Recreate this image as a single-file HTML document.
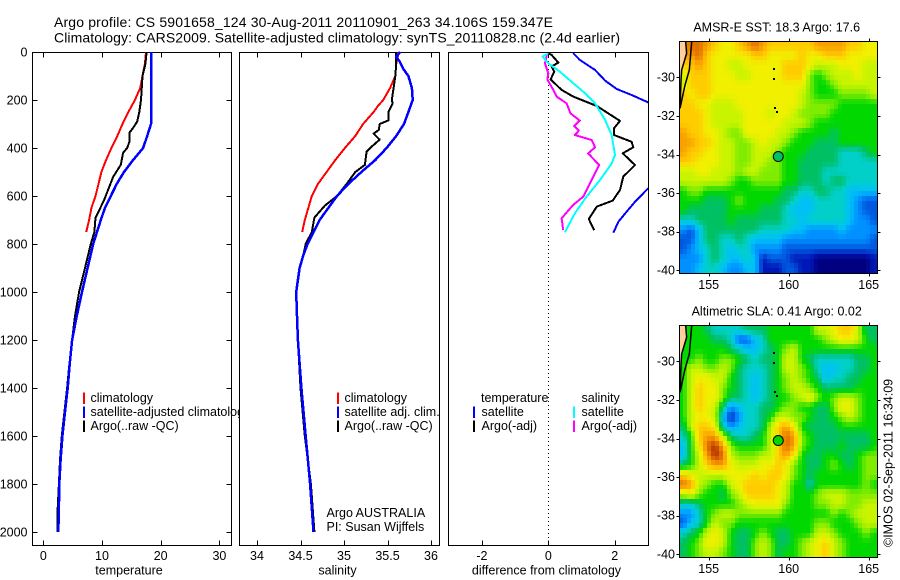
<!DOCTYPE html>
<html>
<head>
<meta charset="utf-8">
<title>Argo profile</title>
<style>
html,body{margin:0;padding:0;background:#fff;width:900px;height:580px;overflow:hidden}
svg{display:block}
text{font-family:"Liberation Sans",sans-serif;font-size:12.5px;fill:#000}
text.main-title{font-size:14px}
</style>
</head>
<body>
<svg id="chart" xmlns="http://www.w3.org/2000/svg" width="900" height="580" viewBox="0 0 900 580">
<rect x="0" y="0" width="900" height="580" fill="#fff"/>
<text class="main-title" x="54" y="27" textLength="499" lengthAdjust="spacing">Argo profile: CS 5901658_124 30-Aug-2011 20110901_263 34.106S 159.347E</text>
<text class="main-title" x="54" y="42.5" textLength="566" lengthAdjust="spacing">Climatology: CARS2009. Satellite-adjusted climatology: synTS_20110828.nc (2.4d earlier)</text>
<g id="layer"></g>
</svg>
<script>
// ---- shared depth levels (m) ----
const yTickLabels = [0,200,400,600,800,1000,1200,1400,1600,1800,2000];
const tempTickLabels = [0,10,20,30];
const salTickLabels = [34,34.5,35,35.5,36];
const diffTickLabels = [-2,0,2];
const lonTickLabels = [155,160,165];
const latTickLabels = [-30,-32,-34,-36,-38,-40];

// ---- temperature panel ----
const tempClimDepth = [0,50,100,150,200,250,300,350,400,450,500,550,600,650,700,750];
const tempClim = [17.5,17.3,16.9,16.5,15.6,14.5,13.5,12.6,11.6,10.7,9.9,9.4,8.9,8.2,7.8,7.3];
const tempSatDepth = [0,300,350,400,450,500,550,600,650,700,800,900,1000,1100,1200,1300,1400,1500,1600,1700,1800,1900,2000];
const tempSat = [18.35,18.35,17.7,17,15.3,13.75,12.5,11.5,10.5,9.8,8.5,7.55,6.6,5.7,4.9,4.5,4.15,3.7,3.25,2.95,2.73,2.65,2.56];
const tempArgoDepth = [0,50,100,200,250,290,320,335,375,400,420,470,520,570,620,660,690,750,800,900,1000,1100,1200,1300,1400,1500,1600,1700,1800,1900,2000];
const tempArgo = [17.6,17.4,16.9,16.65,16.35,16,15.2,14.7,14.65,14.3,13.6,13.2,11.9,11.1,10.3,9.5,8.9,8.7,8.1,7.1,6.1,5.4,4.9,4.45,4.05,3.6,3.15,2.85,2.65,2.45,2.45];

// ---- salinity panel ----
const salClimDepth = [0,50,100,150,200,225,250,300,350,400,450,500,550,600,650,700,750];
const salClim = [35.63,35.6,35.59,35.53,35.45,35.39,35.34,35.22,35.13,35.01,34.9,34.8,34.7,34.63,34.59,34.55,34.52];
const salSatDepth = [0,20,40,70,100,150,200,250,300,350,400,450,500,550,600,650,700,750,800,850,900,1000,1100,1200,1400,1600,1800,2000];
const salSat = [35.645,35.6,35.64,35.68,35.74,35.78,35.79,35.74,35.69,35.6,35.49,35.36,35.2,35.05,34.92,34.82,34.72,34.65,34.58,34.53,34.49,34.45,34.46,34.47,34.51,34.56,34.61,34.65];
const salArgoDepth = [0,50,100,150,200,215,250,285,300,325,340,365,400,415,470,500,550,600,640,690,750,800,850,900,1000,1200,1400,1600,1800,2000];
const salArgo = [35.6,35.6,35.59,35.57,35.55,35.56,35.51,35.51,35.41,35.4,35.34,35.41,35.3,35.26,35.24,35.13,35.03,34.92,34.78,34.66,34.63,34.56,34.53,34.49,34.45,34.47,34.5,34.55,34.62,34.66];

// ---- difference panel ----
const diffTempSatDepth = [5,33,75,119,154,179,210,250,300,350,400,450,500,568,624,665,707,753];
const diffTempSat = [0.75,0.95,1.41,1.71,2.06,2.51,3.01,3.8,4.8,4.6,5.4,4.6,3.85,3.01,2.61,2.36,2.11,1.96];
const diffTempArgoDepth = [5,12,44,61,82,114,158,186,225,287,318,346,374,397,422,471,519,575,619,644,696,742];
const diffTempArgo = [0,0.1,0.3,0.1,0.18,0.07,0.4,0.75,1.46,2.16,1.98,1.98,2.51,2.56,2.24,2.61,2.26,2.16,1.94,1.46,1.22,1.38];
const diffSalSatDepth = [5,19,47,82,130,165,214,283,346,429,464,533,603,672,751];
const diffSalSat = [0,-0.17,0,0.35,0.75,1.05,1.41,1.71,1.91,2.01,1.91,1.56,1.15,0.8,0.5];
const diffSalArgoDepth = [5,47,89,114,158,186,214,256,286,308,328,346,367,397,422,471,547,603,637,693,742];
const diffSalArgo = [-0.03,-0.1,0,-0.03,0.15,0.25,0.55,0.67,0.95,0.78,0.92,0.8,1.31,1.41,1.2,1.53,1.26,1.05,0.75,0.4,0.45];

// ---- map colour levels (25 columns x 24 rows) ----
const sstLevels = [
[12,13,13,12,11,10,10,11,12,13,12,11,11,11,11,11,11,12,12,12,12,11,11,10,10],
[12,12,13,11,10,10,10,10,10,11,11,10,10,10,10,11,10,10,11,11,11,10,10,10,10],
[11,11,12,11,10,10,9,9,10,10,10,10,10,11,11,11,10,9,9,9,10,10,10,9,9],
[9,11,11,11,10,10,10,9,9,10,10,10,10,11,11,11,8,7,8,9,9,9,10,9,9],
[9,11,11,11,10,10,10,10,10,10,10,10,10,10,10,10,8,7,7,8,9,9,9,9,9],
[11,10,11,11,10,10,10,10,10,10,10,10,10,10,10,9,8,7,7,7,8,8,8,8,9],
[11,11,10,10,9,9,9,10,10,10,10,10,10,10,10,9,8,8,8,8,7,7,7,7,7],
[11,11,11,10,9,9,9,9,10,10,10,9,10,10,9,8,8,8,8,7,7,7,7,7,7],
[11,11,11,10,9,9,9,9,10,10,10,10,10,9,9,9,8,7,7,7,7,7,7,7,7],
[12,11,11,10,10,9,8,8,10,10,10,10,9,9,8,7,7,7,7,6,7,7,7,7,7],
[12,12,11,11,10,9,9,8,8,9,10,9,9,8,7,7,7,6,6,6,7,7,7,7,7],
[12,11,11,10,10,9,9,8,8,9,9,9,8,7,7,7,6,6,6,6,5,5,5,6,7],
[11,11,10,10,10,9,9,8,8,9,9,8,8,7,7,6,6,6,6,6,5,5,5,5,5],
[9,9,10,10,9,9,9,8,9,9,8,8,8,7,7,6,6,6,5,5,5,5,5,5,5],
[9,9,9,9,9,9,8,7,7,8,8,8,8,7,7,6,6,6,5,6,6,5,5,5,5],
[7,8,8,7,7,7,7,7,7,7,7,7,7,6,6,5,5,6,6,5,5,4,4,4,4],
[7,7,7,6,6,6,7,8,7,7,7,7,6,6,5,4,4,5,5,5,5,4,3,2,2],
[7,6,6,6,6,6,7,7,7,7,6,6,6,5,4,4,4,5,5,5,5,4,3,2,2],
[5,5,6,6,6,6,7,6,6,6,6,6,6,5,5,4,5,5,5,5,5,4,3,3,2],
[3,2,4,6,6,6,6,6,6,6,5,5,5,5,4,4,3,3,3,3,4,3,3,3,3],
[2,2,4,6,6,5,5,6,5,4,4,4,4,3,3,3,3,3,3,3,3,3,3,3,2],
[2,3,4,5,6,5,4,5,5,3,3,3,3,2,2,2,2,2,2,2,2,2,2,2,2],
[3,3,3,5,6,5,4,4,5,4,1,2,2,2,1,1,1,0,0,0,0,0,0,0,1],
[3,3,4,5,5,4,3,3,4,4,1,1,1,2,2,1,1,0,0,0,0,0,0,0,1]
];
const slaLevels = [
[7,7,7,6,5,5,5,5,6,6,6,7,7,7,7,7,7,9,9,10,11,11,9,6,6],
[7,7,7,7,6,6,5,2,2,4,5,7,7,7,7,7,7,7,8,9,10,10,9,7,6],
[7,7,7,7,7,7,6,5,4,4,5,6,7,8,9,7,7,7,7,7,7,7,7,7,7],
[7,7,8,7,7,8,8,7,6,5,6,6,7,9,9,7,6,5,5,5,5,5,6,6,7],
[7,9,9,8,8,9,8,6,5,5,5,6,7,9,9,8,7,5,4,4,5,5,6,6,7],
[7,9,10,10,9,9,7,6,5,4,5,6,7,8,9,8,7,6,4,5,5,6,6,7,7],
[7,9,11,10,10,8,7,6,5,4,5,6,7,8,9,9,8,7,6,6,6,6,7,7,7],
[7,9,11,10,10,8,6,6,5,4,5,6,7,7,8,9,10,8,7,8,9,9,8,7,7],
[7,9,11,10,9,6,3,4,5,5,6,6,7,8,8,7,7,6,6,8,10,10,8,7,7],
[7,9,10,10,9,4,1,3,5,5,6,7,9,9,8,8,7,6,6,7,8,9,8,7,7],
[6,9,11,11,10,5,3,4,5,5,6,9,11,12,10,7,6,6,6,6,7,7,7,7,7],
[5,7,11,12,12,9,6,5,5,6,7,9,11,13,12,8,7,6,6,6,6,6,6,6,7],
[4,7,10,13,14,12,8,7,7,7,7,9,11,13,12,8,7,6,6,6,7,6,6,6,7],
[4,7,9,12,14,13,9,8,8,8,9,9,11,12,10,7,6,6,7,7,6,6,7,8,8],
[6,7,9,11,12,12,10,9,9,9,10,10,11,10,8,7,6,6,7,8,7,6,7,8,8],
[11,10,9,9,9,9,10,10,10,11,10,11,11,10,8,7,6,7,7,7,7,7,7,8,8],
[13,12,9,8,7,7,9,10,11,11,11,11,10,9,7,7,5,7,7,7,7,7,7,8,7],
[9,10,8,7,7,6,8,9,11,11,11,11,10,9,7,7,7,8,9,9,9,8,8,8,8],
[5,5,6,7,7,7,7,8,9,10,10,10,10,8,7,7,7,8,8,9,9,8,8,9,9],
[3,3,5,7,8,9,9,8,8,8,8,8,8,7,7,7,7,7,7,8,7,8,9,9,9],
[2,4,5,7,9,8,8,7,7,7,7,7,7,7,7,7,7,8,8,7,7,7,8,9,9],
[5,6,7,9,10,9,7,6,6,7,8,7,6,6,7,7,7,9,9,8,7,7,7,8,7],
[6,7,8,10,10,9,7,6,6,8,9,8,6,6,7,8,9,10,11,9,8,7,7,7,7],
[6,7,8,9,9,8,7,6,6,8,9,8,6,7,7,8,9,10,11,9,8,7,7,7,7]
];
const coastInnerLon = [153.56,153.62,153.31,153.27,153.21];
const coastInnerLat = [-28.13,-28.76,-29.62,-30.14,-31.6];
const coastOuterLon = [153.94,153.79,153.52,153.21];
const coastOuterLat = [-28.13,-29.62,-30.4,-31.6];
const islandLon = [159.0,159.0,159.05,159.22];
const islandLat = [-29.5,-30.05,-31.55,-31.75];
const floatLon = 159.347;
const floatLat = -34.106;

const palette = [[0,0,128],[0,24,184],[0,88,224],[0,144,255],[0,192,248],[0,208,200],[0,192,100],[0,216,0],[128,236,0],[200,244,0],[240,240,0],[255,204,0],[248,160,0],[224,110,0],[176,48,0]];
const layer = document.getElementById('layer');
const NS = 'http://www.w3.org/2000/svg';
function mk(tag, attrs, text) {
  const el = document.createElementNS(NS, tag);
  for (const k in attrs) el.setAttribute(k, attrs[k]);
  if (text !== undefined) el.textContent = text;
  layer.appendChild(el);
  return el;
}
function colourOf(v) {
  const t = Math.max(0, Math.min(palette.length - 1, v));
  const i = Math.min(palette.length - 2, Math.floor(t));
  const f = t - i;
  const c = [0,1,2].map(k => Math.round(palette[i][k] + (palette[i + 1][k] - palette[i][k]) * f));
  return 'rgb(' + c.join(',') + ')';
}
function sampleGrid(levels, u, v) {
  const rows = levels.length, cols = levels[0].length;
  const cu = Math.max(0, Math.min(cols - 1, u)), cv = Math.max(0, Math.min(rows - 1, v));
  const c0 = Math.min(cols - 2, Math.floor(cu)), r0 = Math.min(rows - 2, Math.floor(cv));
  const fu = cu - c0, fv = cv - r0;
  return levels[r0][c0] * (1 - fu) * (1 - fv) + levels[r0][c0 + 1] * fu * (1 - fv) + levels[r0 + 1][c0] * (1 - fu) * fv + levels[r0 + 1][c0 + 1] * fu * fv;
}
function yD(d) { return 52 + 0.24 * d; }
function xT(v) { return 43.3 + 5.87 * v; }
function xS(v) { return 257 + 87 * (v - 34); }
function xDf(v) { return 548.3 + 33.2 * v; }
function lonScale(map) { return v => 708.7 + 16 * (v - 155); }
function latScale(map) { return v => map.lat30 + 19.3 * (-30 - v); }

function panel(name, x0, x1, scale, ticks, label, labelX) {
  const bg = mk('rect', {x:x0, y:52.5, width:x1-x0, height:493, fill:'#fff', stroke:'#000', 'stroke-width':1, 'shape-rendering':'crispEdges'});
  
  
  ticks.forEach(t => {
    const x = Math.round(scale(t)) + 0.5;
    [[52.5,57.5],[540.5,545.5]].forEach(p => {
      const tk = mk('line', {x1:x, x2:x, y1:p[0], y2:p[1], stroke:'#000', 'stroke-width':1, 'shape-rendering':'crispEdges'});
      
      
    });
    const tl = mk('text', {x:scale(t), y:560, 'text-anchor':'middle'}, String(t));
    
    
  });
  const al = mk('text', {x:labelX, y:574.5, 'text-anchor':'middle'}, label);
  
  
}
function series(name, depths, values, xs, color, width, clip) {
  const pts = depths.map((d, i) => xs(values[i]).toFixed(1) + ',' + yD(d).toFixed(1)).join(' ');
  const attrs = {points:pts, fill:'none', stroke:color, 'stroke-width':width, 'shape-rendering':'crispEdges', 'stroke-linejoin':'round'};
  if (clip) attrs['clip-path'] = 'url(#' + clip + ')';
  const el = mk('polyline', attrs);
  
  
}
function legendEntry(name, barX, y, color, textX, label) {
  if (color) {
    const b = mk('rect', {x:barX, y:y-9.5, width:2, height:11.5, fill:color});
    
    
  }
  const t = mk('text', {x:textX, y:y}, label);
  
  
}

// clip for difference panel
const defs = mk('defs', {});


const cp = document.createElementNS(NS, 'clipPath');
cp.setAttribute('id', 'diffClip');
const cr = document.createElementNS(NS, 'rect');
cr.setAttribute('x', 449); cr.setAttribute('y', 53); cr.setAttribute('width', 199); cr.setAttribute('height', 492);
cp.appendChild(cr); defs.appendChild(cp);

// ---- temperature panel ----
panel('temperature', 32.5, 231.5, xT, tempTickLabels, 'temperature', 129);
yTickLabels.forEach(d => {
  const y = Math.round(yD(d)) + 0.5;
  [[32.5,37.5],[226.5,231.5]].forEach(p => {
    const tk = mk('line', {x1:p[0], x2:p[1], y1:y, y2:y, stroke:'#000', 'stroke-width':1, 'shape-rendering':'crispEdges'});
    
    
  });
  const tl = mk('text', {x:27.5, y:yD(d) + 4.5, 'text-anchor':'end'}, String(d));
  
  
});
series('temperature-climatology-line', tempClimDepth, tempClim, xT, '#ff0000', 2);
series('temperature-argo-line', tempArgoDepth, tempArgo, xT, '#000000', 2);
series('temperature-satellite-line', tempSatDepth, tempSat, xT, '#0000ff', 2.5);
legendEntry('temperature-legend-climatology', 83, 402, '#ff0000', 90.5, 'climatology');
legendEntry('temperature-legend-satellite', 83, 416, '#0000ff', 90.5, 'satellite-adjusted climatology');
legendEntry('temperature-legend-argo', 83, 430, '#000000', 90.5, 'Argo(..raw -QC)');

// ---- salinity panel ----
panel('salinity', 239.5, 439.5, xS, salTickLabels, 'salinity', 337.5);
series('salinity-climatology-line', salClimDepth, salClim, xS, '#ff0000', 2);
series('salinity-argo-line', salArgoDepth, salArgo, xS, '#000000', 2);
series('salinity-satellite-line', salSatDepth, salSat, xS, '#0000ff', 2.5);
legendEntry('salinity-legend-climatology', 337, 402, '#ff0000', 344.5, 'climatology');
legendEntry('salinity-legend-satellite', 337, 416, '#0000ff', 344.5, 'satellite adj. clim.');
legendEntry('salinity-legend-argo', 337, 430, '#000000', 344.5, 'Argo(..raw -QC)');
legendEntry('float-operator', 0, 517, null, 326.5, 'Argo AUSTRALIA');
legendEntry('principal-investigator', 0, 531, null, 326.5, 'PI: Susan Wijffels');

// ---- difference panel ----
panel('difference', 448.5, 648.5, xDf, diffTickLabels, 'difference from climatology', 546.5);
const zero = mk('line', {x1:548.5, x2:548.5, y1:53, y2:545, stroke:'#000', 'stroke-width':1, 'stroke-dasharray':'1 3', 'shape-rendering':'crispEdges'});


series('difference-temperature-argo-line', diffTempArgoDepth, diffTempArgo, xDf, '#000000', 2, 'diffClip');
series('difference-temperature-satellite-line', diffTempSatDepth, diffTempSat, xDf, '#0000ff', 2, 'diffClip');
series('difference-salinity-argo-line', diffSalArgoDepth, diffSalArgo, xDf, '#ff00ff', 2, 'diffClip');
series('difference-salinity-satellite-line', diffSalSatDepth, diffSalSat, xDf, '#00ffff', 2, 'diffClip');
legendEntry('difference-legend-temperature', 0, 402, null, 481, 'temperature');
legendEntry('difference-legend-temperature-satellite', 473, 416, '#0000ff', 481.5, 'satellite');
legendEntry('difference-legend-temperature-argo', 473, 430, '#000000', 481.5, 'Argo(-adj)');
legendEntry('difference-legend-salinity', 0, 402, null, 581.5, 'salinity');
legendEntry('difference-legend-salinity-satellite', 573, 416, '#00ffff', 581.5, 'satellite');
legendEntry('difference-legend-salinity-argo', 573, 430, '#ff00ff', 581.5, 'Argo(-adj)');

// ---- maps ----
function drawMap(name, levels, top, lat30, title, titleY, labelY, floatLevel) {
  const map = {lat30: lat30};
  const X = lonScale(map), Y = latScale(map);
  const x0 = 679.5, w = 198, h = 232;
  const cols = levels[0].length, rows = levels.length;
  const subC = cols * 2, subR = rows * 2;
  for (let r = 0; r < subR; r++) {
    for (let c = 0; c < subC; c++) {
      const u = (c + 0.5) / 2 - 0.5, v = (r + 0.5) / 2 - 0.5;
      const cx0 = Math.round(x0 + c * w / subC), cx1 = Math.round(x0 + (c + 1) * w / subC);
      const cy0 = Math.round(top + r * h / subR), cy1 = Math.round(top + (r + 1) * h / subR);
      const cell = mk('rect', {x:cx0, y:cy0, width:cx1 - cx0, height:cy1 - cy0, fill:colourOf(sampleGrid(levels, u, v))});
      
      
    }
  }
  const landPts = [[x0, top]].concat(coastInnerLon.map((lo, i) => [X(lo), Y(coastInnerLat[i])])).concat([[x0, Y(coastInnerLat[coastInnerLat.length - 1])]]);
  const land = mk('polygon', {points:landPts.map(p => p.join(',')).join(' '), fill:'#ffd09c', stroke:'none'});
  
  
  const inner = mk('polyline', {points:coastInnerLon.map((lo, i) => X(lo) + ',' + Y(coastInnerLat[i])).join(' '), fill:'none', stroke:'#000', 'stroke-width':1.5});
  
  
  const outer = mk('polyline', {points:coastOuterLon.map((lo, i) => X(lo) + ',' + Y(coastOuterLat[i])).join(' '), fill:'none', stroke:'#000', 'stroke-width':1.5});
  
  
  islandLon.forEach((lo, i) => {
    const is = mk('rect', {x:Math.round(X(lo)), y:Math.round(Y(islandLat[i])), width:2, height:2, fill:'#000'});
    
    
  });
  const fr = mk('rect', {x:x0, y:top + 0.5, width:w, height:h, fill:'none', stroke:'#000', 'stroke-width':1, 'shape-rendering':'crispEdges'});
  
  
  lonTickLabels.forEach(lo => {
    const x = Math.round(X(lo)) + 0.5;
    [[top - 2.5, top + 0.5],[top + h + 0.5, top + h + 3.5]].forEach(p => {
      const tk = mk('line', {x1:x, x2:x, y1:p[0], y2:p[1], stroke:'#000', 'stroke-width':1, 'shape-rendering':'crispEdges'});
      
      
    });
    const tl = mk('text', {x:X(lo), y:labelY, 'text-anchor':'middle'}, String(lo));
    
    
  });
  latTickLabels.forEach(la => {
    const y = Math.round(Y(la)) + 0.5;
    [[676.5, 679.5],[877.5, 880.5]].forEach(p => {
      const tk = mk('line', {x1:p[0], x2:p[1], y1:y, y2:y, stroke:'#000', 'stroke-width':1, 'shape-rendering':'crispEdges'});
      
      
    });
    const tl = mk('text', {x:675, y:Y(la) + 4, 'text-anchor':'end'}, String(la));
    
    
  });
  const fc = mk('circle', {cx:X(floatLon), cy:Y(floatLat), r:5, fill:colourOf(floatLevel), stroke:'#000', 'stroke-width':1});
  
  
  const tt = mk('text', {x:776.7, y:titleY, 'text-anchor':'middle'}, title);
  
  
}
drawMap('sst-map', sstLevels, 41, 77.3, 'AMSR-E SST: 18.3 Argo: 17.6', 31.5, 289, 6);
drawMap('sla-map', slaLevels, 325, 361.3, 'Altimetric SLA: 0.41 Argo: 0.02', 315.5, 573, 7);

const stamp = mk('text', {x:0, y:0, transform:'translate(892.5 547) rotate(-90)'}, '\u00a9IMOS 02-Sep-2011 16:34:09');


</script>
</body>
</html>
